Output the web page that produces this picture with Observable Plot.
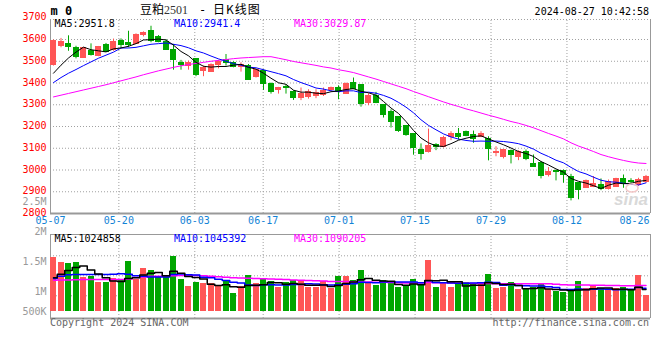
<!DOCTYPE html>
<html><head><meta charset="utf-8">
<script src="https://cdn.jsdelivr.net/npm/d3@7"></script>
<script src="https://cdn.jsdelivr.net/npm/@observablehq/plot@0.6"></script>
<style>
body{margin:0;background:#fff;}
#wrap{position:relative;width:660px;height:360px;overflow:hidden;background:#fff;}
#wrap svg{position:absolute;left:0;top:0;}
</style></head><body><div id="wrap"></div>
<script>
// ---------------- data ----------------
const dates = ["05-07","05-08","05-09","05-10","05-13","05-14","05-15","05-16","05-17",
"05-20","05-21","05-22","05-23","05-24","05-27","05-28","05-29","05-30","05-31",
"06-03","06-04","06-05","06-06","06-07","06-11","06-12","06-13","06-14",
"06-17","06-18","06-19","06-20","06-21","06-24","06-25","06-26","06-27","06-28",
"07-01","07-02","07-03","07-04","07-05","07-08","07-09","07-10","07-11","07-12",
"07-15","07-16","07-17","07-18","07-19","07-22","07-23","07-24","07-25","07-26",
"07-29","07-30","07-31","08-01","08-02","08-05","08-06","08-07","08-08","08-09",
"08-12","08-13","08-14","08-15","08-16","08-19","08-20","08-21","08-22","08-23",
"08-26","08-27"];
const opens  = [3482,3571,3580,3559,3517,3548,3524,3577,3550,3592,3583,3580,3620,3641,3611,3589,3550,3491,3479,3510,3455,3450,3485,3505,3493,3473,3479,3427,3453,3397,3369,3381,3357,3331,3335,3341,3346,3366,3377,3351,3400,3389,3308,3341,3297,3266,3242,3201,3167,3091,3081,3117,3106,3151,3164,3176,3161,3153,3143,3077,3061,3089,3058,3084,3028,3031,2977,2997,2996,2970,2939,2919,2921,2931,2911,2924,2957,2950,2931,2944];
const highs  = [3598,3605,3617,3569,3562,3580,3568,3582,3602,3603,3638,3626,3635,3661,3618,3600,3577,3504,3501,3510,3478,3488,3504,3531,3497,3493,3485,3461,3461,3400,3380,3392,3364,3377,3369,3369,3377,3381,3387,3400,3423,3392,3351,3357,3297,3277,3242,3201,3167,3120,3188,3121,3155,3176,3191,3179,3179,3176,3153,3107,3092,3092,3089,3092,3069,3039,3011,3000,3000,2980,2942,2954,2970,2959,2954,2962,2977,2960,2962,2975];
const lows   = [3478,3562,3546,3511,3514,3524,3521,3540,3546,3559,3562,3577,3612,3585,3585,3550,3459,3459,3459,3429,3429,3450,3465,3478,3470,3450,3412,3423,3366,3349,3349,3349,3320,3319,3326,3328,3338,3361,3323,3351,3369,3289,3296,3305,3239,3193,3173,3155,3068,3045,3078,3089,3101,3135,3138,3153,3123,3149,3042,3061,3051,3028,3043,3043,3013,2959,2968,2950,2939,2858,2863,2916,2919,2905,2908,2921,2916,2930,2925,2940];
const closes = [3592,3589,3565,3519,3559,3531,3565,3543,3589,3577,3573,3623,3629,3595,3589,3554,3504,3482,3494,3439,3467,3485,3497,3490,3473,3485,3413,3461,3395,3358,3377,3377,3329,3349,3357,3354,3364,3377,3361,3395,3374,3303,3341,3308,3251,3221,3178,3159,3101,3075,3112,3106,3147,3167,3153,3158,3143,3164,3097,3084,3092,3069,3084,3051,3016,2973,2993,2993,2977,2870,2908,2950,2936,2911,2944,2957,2939,2945,2954,2970];
const ma5  = [3445,3482,3515,3542,3565,3553,3548,3543,3557,3561,3569,3581,3598,3599,3602,3598,3574,3545,3525,3495,3477,3473,3476,3476,3482,3486,3472,3464,3445,3422,3401,3394,3367,3358,3358,3353,3351,3360,3363,3370,3374,3362,3355,3344,3315,3285,3260,3223,3182,3147,3125,3111,3108,3121,3137,3146,3154,3157,3143,3129,3116,3101,3085,3076,3062,3039,3023,3005,2990,2961,2948,2940,2928,2915,2930,2940,2937,2939,2948,2952];
const ma10 = [3402,3425,3445,3462,3480,3497,3514,3528,3542,3561,3561,3564,3571,3578,3581,3584,3578,3572,3562,3548,3538,3524,3511,3500,3489,3482,3473,3470,3461,3452,3443,3433,3416,3402,3390,3377,3372,3364,3360,3364,3364,3356,3358,3353,3343,3330,3311,3289,3263,3231,3205,3185,3166,3152,3142,3136,3132,3133,3132,3133,3131,3127,3121,3110,3096,3077,3062,3045,3033,3012,2993,2982,2967,2953,2946,2944,2939,2934,2931,2941];
const ma30 = [3336,3344,3352,3360,3368,3376,3384,3392,3401,3410,3419,3428,3438,3447,3456,3464,3472,3479,3485,3490,3495,3500,3504,3508,3512,3515,3517,3519,3521,3521,3514,3507,3499,3493,3487,3481,3474,3469,3461,3455,3448,3438,3428,3418,3407,3396,3385,3374,3361,3349,3337,3325,3313,3302,3292,3281,3272,3262,3252,3243,3233,3223,3215,3205,3194,3181,3168,3156,3143,3125,3110,3098,3085,3071,3061,3052,3044,3037,3032,3030];
const volumes = [1560000,1475000,1452000,1475000,1219000,1236000,1134000,1134000,1208000,1179000,1492000,1196000,1367000,1350000,1236000,1225000,1577000,1196000,1077000,1145000,1117000,1122000,1094000,1151000,963000,1077000,1265000,1117000,1196000,1151000,1065000,1134000,1168000,1151000,1065000,1065000,1151000,1048000,1236000,1236000,1168000,1350000,1150000,1093000,1179000,1150000,1065000,1093000,1196000,1111000,1503000,1059000,1134000,1059000,1122000,1134000,1122000,1134000,1281000,1048000,1059000,1140000,1025000,1025000,1065000,1122000,1025000,991000,974000,1025000,1162000,1048000,1071000,1048000,1025000,1048000,1065000,1025000,1253000,923000];
const volMa5  = [1220000,1280000,1340000,1390000,1416000,1351000,1283000,1220000,1166000,1158000,1209000,1222000,1268000,1297000,1308000,1255000,1331000,1297000,1242000,1224000,1202000,1111000,1091000,1106000,1069000,1061000,1090000,1095000,1104000,1141000,1139000,1113000,1123000,1114000,1097000,1097000,1100000,1076000,1093000,1127000,1148000,1188000,1208000,1179000,1168000,1164000,1107000,1096000,1117000,1103000,1174000,1172000,1181000,1153000,1155000,1082000,1094000,1094000,1139000,1124000,1109000,1112000,1091000,1039000,1043000,1055000,1032000,1026000,1015000,1007000,1015000,1020000,1036000,1051000,1051000,1028000,1031000,1022000,1063000,1025000];
const volMa10 = [1208000,1245000,1270000,1276000,1276000,1276000,1276000,1276000,1280000,1287000,1280000,1253000,1244000,1232000,1233000,1232000,1276000,1283000,1270000,1266000,1229000,1221000,1194000,1174000,1147000,1132000,1101000,1093000,1105000,1105000,1100000,1101000,1109000,1109000,1119000,1118000,1106000,1099000,1103000,1112000,1122000,1144000,1142000,1136000,1148000,1156000,1148000,1152000,1148000,1136000,1169000,1140000,1138000,1135000,1129000,1128000,1133000,1137000,1146000,1140000,1095000,1103000,1092000,1089000,1083000,1082000,1072000,1058000,1027000,1025000,1035000,1026000,1031000,1033000,1029000,1022000,1026000,1029000,1057000,1045000];
const volMa30 = [1180000,1182000,1185000,1188000,1190000,1190000,1190000,1190000,1190000,1190000,1200000,1225000,1235000,1245000,1247000,1248000,1255000,1258000,1259000,1259000,1255000,1245000,1236000,1228000,1222000,1216000,1212000,1208000,1204000,1200000,1195000,1190000,1185000,1180000,1175000,1170000,1165000,1160000,1160000,1158000,1156000,1152000,1150000,1147000,1144000,1140000,1137000,1135000,1134000,1134000,1140000,1138000,1136000,1134000,1130000,1128000,1126000,1125000,1124000,1122000,1122000,1122000,1122000,1122000,1122000,1122000,1120000,1113000,1105000,1102000,1100000,1098000,1096000,1094000,1092000,1090000,1089000,1088000,1092000,1090000];
const dateTicks = ["05-07","05-20","06-03","06-17","07-01","07-15","07-29","08-12","08-26"];
const priceTicks = [3700,3600,3500,3400,3300,3200,3100,3000,2900,2800];
const volTicks = [2500000,2000000,1500000,1000000,500000];
const volTickLabels = ["2.5M","2M","1.5M","1M","500K"];
const volGridLevels = [1586667,1253333,920000];
const priceLabels = ["MA5:2951.8","MA10:2941.4","MA30:3029.87"];
const volLabels = ["MA5:1024858","MA10:1045392","MA30:1090205"];
const maColors = ["#000000","#0000ff","#ff00ff"];

// ---------------- setup ----------------
const RED = "#ff5555", GREEN = "#00a600";
const rows = dates.map((date, i) => ({
  i, date, open: opens[i], high: highs[i], low: lows[i], close: closes[i],
  volume: volumes[i], ma5: ma5[i], ma10: ma10[i], ma30: ma30[i],
  vma5: volMa5[i], vma10: volMa10[i], vma30: volMa30[i],
  color: closes[i] >= opens[i] ? RED : GREEN
}));
const N = dates.length;
const mid = d => d.i + 0.4;
const gridPos = dateTicks.map(t => dates.indexOf(t) * N / (N - 1));
const innerGrid = gridPos.slice(1, -1);
const FONT = "DejaVu Sans Mono";
const GRID = {stroke: "#a0a0a0", strokeDasharray: "1,2"};
const BORDER = "#999999";
const X = {type: "linear", domain: [0, N], range: [50, 650], axis: null};
const priceDomain = [2800, 3692];
const volBase = 660000;
const volDomain = [541667, 1941667];

const wrap = document.getElementById("wrap");

const main = Plot.plot({
  width: 660, height: 360, margin: 0,
  style: {background: "transparent", overflow: "visible"},
  x: X,
  y: {type: "linear", domain: priceDomain, range: [213, 19], axis: null},
  color: {type: "identity"},
  marks: [
    Plot.ruleY(priceTicks.filter(v => v > 2800 && v < 3700), {x1: 0, x2: N, ...GRID}),
    Plot.ruleY([priceDomain[1]], {x1: 0, x2: N, ...GRID}),
    Plot.ruleX(innerGrid, {x: d => d, y1: priceDomain[0], y2: priceDomain[1], ...GRID}),
    Plot.ruleX([0, N], {y1: priceDomain[0], y2: priceDomain[1], stroke: BORDER}),
    Plot.ruleY([priceDomain[0]], {x1: 0, x2: N, stroke: BORDER, strokeWidth: 2}),
    Plot.ruleX(rows, {x: mid, y1: "low", y2: "high", stroke: "color"}),
    Plot.rect(rows, {x1: "i", x2: d => d.i + 0.8, y1: "open", y2: "close", fill: "color",
      insetTop: -0.5, insetBottom: -0.5, shapeRendering: "crispEdges"}),
    Plot.line(rows, {x: mid, y: "ma30", stroke: maColors[2], strokeWidth: 1}),
    Plot.line(rows, {x: mid, y: "ma10", stroke: maColors[1], strokeWidth: 1}),
    Plot.line(rows, {x: mid, y: "ma5", stroke: maColors[0], strokeWidth: 1}),
    Plot.text(priceTicks, {x: 0, y: d => d, text: d => String(d), dx: -4, dy: -0.5,
      textAnchor: "end", fill: "#ff0000", fontSize: 10, fontFamily: FONT}),
    Plot.text(dateTicks.slice(0, -1), {x: (d, i) => gridPos[i], y: priceDomain[0], text: d => d,
      dy: 7.5, fill: "#1283d6", fontSize: 10, fontFamily: FONT}),
    Plot.text(dateTicks.slice(-1), {x: N, y: priceDomain[0], text: d => d, textAnchor: "end",
      dx: -1, dy: 7.5, fill: "#1283d6", fontSize: 10, fontFamily: FONT})
  ]
});
wrap.appendChild(main);

const vol = Plot.plot({
  width: 660, height: 360, margin: 0,
  style: {background: "transparent", overflow: "visible"},
  x: X,
  y: {type: "linear", domain: volDomain, range: [318, 234], axis: null},
  color: {type: "identity"},
  marks: [
    Plot.ruleY(volGridLevels, {x1: 0, x2: N, ...GRID}),
    Plot.ruleX(innerGrid, {x: d => d, y1: volDomain[0], y2: volDomain[1], ...GRID}),
    Plot.ruleY([volDomain[1]], {x1: 0, x2: N, stroke: BORDER}),
    Plot.ruleX([0, N], {y1: volDomain[0], y2: volDomain[1], stroke: BORDER}),
    Plot.ruleY([volDomain[0]], {x1: 0, x2: N, stroke: BORDER, strokeWidth: 2}),
    Plot.rect(rows, {x1: "i", x2: d => d.i + 0.8, y1: volBase, y2: "volume", fill: "color",
      shapeRendering: "crispEdges"}),
    Plot.line(rows, {x: mid, y: "vma30", stroke: maColors[2], curve: "step"}),
    Plot.line(rows, {x: mid, y: "vma10", stroke: maColors[1], curve: "step"}),
    Plot.line(rows, {x: mid, y: "vma5", stroke: maColors[0], curve: "step"}),
    Plot.text(volTicks, {x: 0, y: d => Math.max(d, volBase), text: (d, i) => volTickLabels[i],
      dx: -4, dy: 0.5, textAnchor: "end", fill: "#999999", fontSize: 10, fontFamily: FONT})
  ]
});
wrap.appendChild(vol);

// ---------------- text overlay ----------------
const svg = d3.select(wrap).append("svg").attr("width", 660).attr("height", 360)
  .style("font-family", FONT).style("font-size", "10px");
svg.append("text").attr("x", 50.5).attr("y", 15).style("font-size", "12px").style("font-weight", "bold").text("m 0");
const title = svg.append("g");
title.append("text").attr("x", 140).attr("y", 14).style("font-family", "Noto Sans CJK SC").style("font-size", "12px").text("豆粕");
title.append("text").attr("x", 164).attr("y", 14).style("font-family", "Liberation Serif").style("font-size", "12px").attr("fill", "#333").text("2501");
title.append("text").attr("x", 202.5).attr("y", 14).attr("text-anchor", "middle").style("font-size", "12px").text("-");
title.append("text").attr("x", 213).attr("y", 14).style("font-family", "Noto Sans CJK SC").style("font-size", "12px").style("letter-spacing", "1px").text("日K线图");
svg.append("text").attr("x", 649).attr("y", 15).attr("text-anchor", "end").text("2024-08-27 10:42:58");
const labelX = [54.5, 174, 294];
priceLabels.forEach((t, k) => svg.append("text").attr("x", labelX[k]).attr("y", 27).attr("fill", maColors[k]).text(t));
volLabels.forEach((t, k) => svg.append("text").attr("x", labelX[k]).attr("y", 241.5).attr("fill", maColors[k]).text(t));
svg.append("text").attr("x", 50).attr("y", 326).attr("fill", "#666").text("Copyright 2024 SINA.COM");
svg.append("text").attr("x", 649).attr("y", 326).attr("text-anchor", "end").attr("fill", "#666").text("http://finance.sina.com.cn");
svg.append("text").attr("x", 648).attr("y", 205).attr("text-anchor", "end")
  .style("font-family", "Liberation Sans").style("font-size", "17px").style("font-weight", "bold").style("font-style", "italic")
  .attr("fill", "#d9d9d9").text("sina");
svg.append("ellipse").attr("cx", 632).attr("cy", 188).attr("rx", 6).attr("ry", 4)
  .attr("fill", "none").attr("stroke", "#f3c7c7").attr("stroke-width", 1.5);
</script></body></html>
